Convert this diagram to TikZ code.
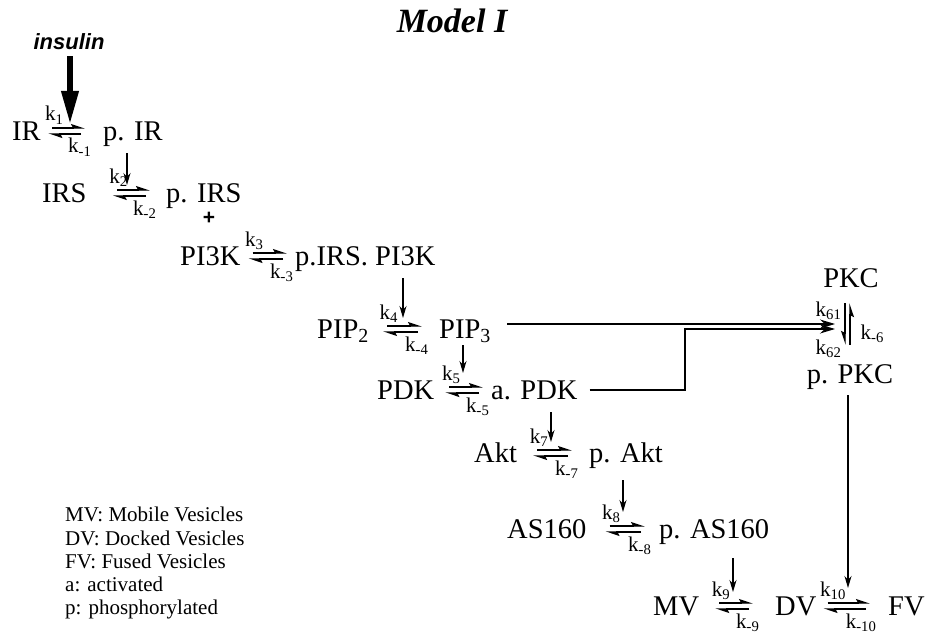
\documentclass[tikz,border=0pt]{standalone}
\usepackage{fontspec}
\setmainfont{Liberation Serif}
\newfontfamily\insfont{Liberation Sans}
\usetikzlibrary{arrows.meta}

% reversible step: A, B, left gap, right gap, forward k, backward k
\newcommand{\rxn}[6]{%
  \draw[fwd] ([xshift=#3pt+4pt,yshift=12pt]#1.base east) --
    node[kf, at start, xshift=-8pt, yshift=7pt] {k\textsubscript{#5}}
    node[kb, at end, xshift=7pt, yshift=-25pt] {k\textsubscript{#6}}
    ([xshift=-#4pt,yshift=12pt]#2.base west);
  \draw[fwd] ([xshift=-#4pt-4pt,yshift=6pt]#2.base west) -- ([xshift=#3pt,yshift=6pt]#1.base east);
}

\begin{document}
\begin{tikzpicture}[x=1pt, y=-1pt,
    sp/.style={font=\fontsize{28.5}{30}\selectfont, inner sep=0pt, anchor=base west, text height=20pt, text depth=6pt},
    kf/.style={font=\fontsize{21}{22}\selectfont, inner sep=0pt, anchor=base west},
    kb/.style={font=\fontsize{21}{22}\selectfont, inner sep=0pt, anchor=base east},
    fwd/.style={line width=1.3pt, -{Stealth[harpoon, length=12pt, width=8pt, inset=2pt]}},
    fwdv/.style={line width=1.3pt, -{Stealth[harpoon, swap, length=12pt, width=8pt, inset=2pt]}},
    act/.style={line width=1.3pt, -{Stealth[length=12pt, width=7pt]}},
    pkcarr/.style={line width=1.3pt, -{Stealth[length=15pt, width=9pt]}},
    bigarr/.style={line width=6.5pt, -{Triangle[length=34pt, width=16pt]}},
    title/.style={font=\fontsize{34}{36}\selectfont\bfseries\itshape, inner sep=0pt, anchor=base},
    ins/.style={font=\insfont\fontsize{22}{24}\selectfont\bfseries\itshape, inner sep=0pt, anchor=base},
    plus/.style={font=\insfont\fontsize{21}{21}\selectfont\bfseries, inner sep=0pt},
    legend/.style={font=\fontsize{21}{23.3}\selectfont, inner sep=0pt, align=left, anchor=north west},
  ]
  \useasboundingbox (0,0) rectangle (930,634);

  \node[title] (title) at (452,33) {Model I};
  \node[ins] (insulin) at (69,50) {insulin};

  % species
  \node[sp] (IR) at (12,140) {IR};
  \node[sp] (pIR) at (103,140) {p. IR};
  \node[sp] (IRS) at (42,202) {IRS};
  \node[sp] (pIRS) at (166,202) {p. IRS};
  \node[plus] (plus) at (209,218) {+};
  \node[sp] (PI3K) at (180,265) {PI3K};
  \node[sp] (pIRSPI3K) at (295,265) {p.IRS. PI3K};
  \node[sp] (PIP2) at (317,338) {PIP\textsubscript{2}};
  \node[sp] (PIP3) at (439,338) {PIP\textsubscript{3}};
  \node[sp] (PDK) at (377,399) {PDK};
  \node[sp] (aPDK) at (491,399) {a. PDK};
  \node[sp] (Akt) at (474,462) {Akt};
  \node[sp] (pAkt) at (589,462) {p. Akt};
  \node[sp] (AS160) at (507,538) {AS160};
  \node[sp] (pAS160) at (659,538) {p. AS160};
  \node[sp] (MV) at (653,615) {MV};
  \node[sp] (DV) at (775,615) {DV};
  \node[sp] (FV) at (888,615) {FV};
  \node[sp, anchor=base] (PKC) at (851,287) {PKC};
  \node[sp, anchor=base] (pPKC) at (850,383) {p. PKC};

  \node[legend] (legend) at (65,507) {MV: Mobile Vesicles\\DV: Docked Vesicles\\FV: Fused Vesicles\\a: activated\\p: phosphorylated};

  % reversible steps
  \rxn{IR}{pIR}{7.5}{18}{1}{-1}
  \rxn{IRS}{pIRS}{26}{16}{2}{-2}
  \rxn{PI3K}{pIRSPI3K}{8}{8}{3}{-3}
  \rxn{PIP2}{PIP3}{14}{17}{4}{-4}
  \rxn{PDK}{aPDK}{11}{8}{5}{-5}
  \rxn{Akt}{pAkt}{16}{17}{7}{-7}
  \rxn{AS160}{pAS160}{19}{14}{8}{-8}
  \rxn{MV}{DV}{16}{22}{9}{-9}
  \rxn{DV}{FV}{7}{18}{10}{-10}

  \draw[fwdv, shorten <=10pt, shorten >=18pt] ([xshift=-5pt]pPKC.north |- PKC.south) --
    node[kb, at start, xshift=-3pt, yshift=-23pt] {k\textsubscript{61}}
    node[kb, at end, xshift=-3pt, yshift=8pt] {k\textsubscript{62}}
    ([xshift=-5pt]pPKC.north);
  \draw[fwdv, shorten <=18pt, shorten >=10pt] (pPKC.north) --
    node[kf, at start, xshift=10pt, yshift=23pt] {k\textsubscript{-6}}
    (pPKC.north |- PKC.south);

  % activation arrows
  \coordinate (irin) at (70,125);
  \coordinate (a2) at (127,185);
  \coordinate (a4) at (403,318);
  \coordinate (a5) at (463,373);
  \coordinate (a6) at (551,442);
  \coordinate (a7) at (623,512);
  \coordinate (a8) at (733,592);
  \coordinate (dvin) at (848,588);
  \coordinate (pkcin) at (835,327);
  \coordinate (bend) at (685,329);

  \draw[bigarr, shorten <=6pt] (irin |- insulin.south) -- (irin);
  \draw[act, shorten <=7pt] (a2 |- pIR.south) -- (a2);
  \draw[act, shorten <=7pt] (a4 |- pIRSPI3K.south) -- (a4);
  \draw[act, shorten <=1pt] (a5 |- PIP3.south) -- (a5);
  \draw[act, shorten <=7pt] (a6 |- aPDK.south) -- (a6);
  \draw[act, shorten <=12pt] (a7 |- pAkt.south) -- (a7);
  \draw[act, shorten <=14pt] (a8 |- pAS160.south) -- (a8);
  \draw[act, shorten <=6pt] (dvin |- pPKC.south) -- (dvin);

  % to PKC
  \draw[pkcarr] ([xshift=16pt,yshift=7pt]PIP3.east) -- ([yshift=3pt]pkcin);
  \draw[pkcarr] ([xshift=12pt,yshift=2pt]aPDK.east) -| (bend) -- ([yshift=-2pt]pkcin);
\end{tikzpicture}
\end{document}
